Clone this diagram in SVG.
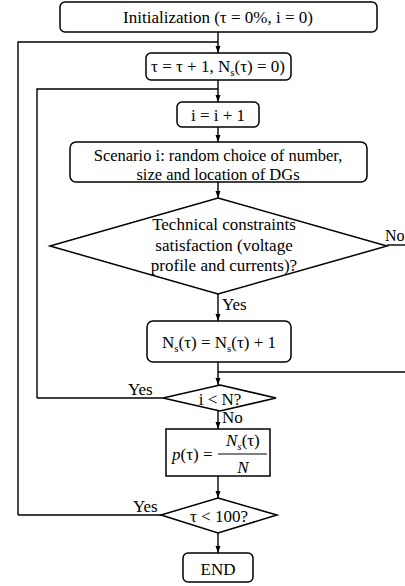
<svg xmlns="http://www.w3.org/2000/svg" width="405" height="586" viewBox="0 0 405 586" font-family="'Liberation Serif', 'Times New Roman', 'DejaVu Serif', serif">
<style>
.b{fill:#fff;stroke:#000;stroke-width:1.5}
.c{fill:none;stroke:#000;stroke-width:1.4}
text{font-family:'Liberation Serif','Times New Roman','DejaVu Serif',serif;font-size:17px;fill:#000}
.m{text-anchor:middle}
.s{font-size:11px}
.i{font-style:italic}
</style>
<defs>
<marker id="a" markerWidth="8" markerHeight="8" refX="7" refY="4" orient="auto" markerUnits="userSpaceOnUse">
<path d="M0,1.5 L7,4 L0,6.5 Z" fill="#000"/>
</marker>
</defs>
<g id="connectors">
<path class="c" d="M218,32 V53" marker-end="url(#a)"/>
<path class="c" d="M18,515 V42 H218"/>
<path class="c" d="M218,80 V102" marker-end="url(#a)"/>
<path class="c" d="M37,398 V89 H218"/>
<path class="c" d="M218,127 V142" marker-end="url(#a)"/>
<path class="c" d="M218,182 V198" marker-end="url(#a)"/>
<path class="c" d="M387,245 H405"/>
<path class="c" d="M218,294 V321" marker-end="url(#a)"/>
<path class="c" d="M218,362 V385" marker-end="url(#a)"/>
<path class="c" d="M405,372 H218"/>
<path class="c" d="M163,398 H37"/>
<path class="c" d="M218,411 V429" marker-end="url(#a)"/>
<path class="c" d="M218,476 V498" marker-end="url(#a)"/>
<path class="c" d="M161,515 H18"/>
<path class="c" d="M218,533 V553" marker-end="url(#a)"/>
<text x="385" y="241" style="font-size:16px">No</text>
<text x="222" y="310">Yes</text>
<text x="128" y="395">Yes</text>
<text x="222" y="423">No</text>
<text x="133" y="512">Yes</text>
</g>
<g id="init">
<rect class="b" x="60" y="2" width="317" height="30" rx="5"/>
<text class="m" x="218" y="23">Initialization (τ = 0%, i = 0)</text>
</g>
<g id="tau-inc">
<rect class="b" x="146" y="53" width="145" height="27" rx="5"/>
<text class="m" x="218" y="72">τ = τ + 1, N<tspan class="s" dy="4">s</tspan><tspan dy="-4">(τ) = 0)</tspan></text>
</g>
<g id="i-inc">
<rect class="b" x="177" y="102" width="82" height="25" rx="5"/>
<text class="m" x="218" y="121">i = i + 1</text>
</g>
<g id="scenario">
<rect class="b" x="70" y="142" width="297" height="40" rx="6"/>
<text class="m" x="218" y="161" style="font-size:16.5px">Scenario i: random choice of number,</text>
<text class="m" x="218" y="179.5" style="font-size:16.5px">size and location of DGs</text>
</g>
<g id="constraints">
<polygon class="b" points="218,198 387,246 218,294 50,246"/>
<text class="m" x="224" y="230">Technical constraints</text>
<text class="m" x="224" y="251">satisfaction (voltage</text>
<text class="m" x="224" y="271">profile and currents)?</text>
</g>
<g id="ns-inc">
<rect class="b" x="147" y="321" width="144" height="41" rx="6"/>
<text class="m" x="219" y="348">N<tspan class="s" dy="4">s</tspan><tspan dy="-4">(τ) = N</tspan><tspan class="s" dy="4">s</tspan><tspan dy="-4">(τ) + 1</tspan></text>
</g>
<g id="i-lt-n">
<polygon class="b" points="220,385 276,398 220,411 163,398"/>
<text class="m" x="220" y="405">i &lt; N?</text>
</g>
<g id="p-tau">
<rect class="b" x="166" y="429" width="104" height="47"/>
<text x="172" y="460"><tspan class="i">p</tspan>(τ) =</text>
<text x="226" y="446"><tspan class="i">N</tspan><tspan class="s i" dy="4">s</tspan><tspan dy="-4">(τ)</tspan></text>
<path d="M218,454 H267" stroke="#000" stroke-width="1"/>
<text class="i m" x="243" y="473">N</text>
</g>
<g id="tau-lt-100">
<polygon class="b" points="218,498 277,515 218,533 161,515"/>
<text class="m" x="219" y="522">τ &lt; 100?</text>
</g>
<g id="end">
<rect class="b" x="183" y="553" width="70" height="29" rx="5"/>
<text class="m" x="218" y="575">END</text>
</g>
</svg>
